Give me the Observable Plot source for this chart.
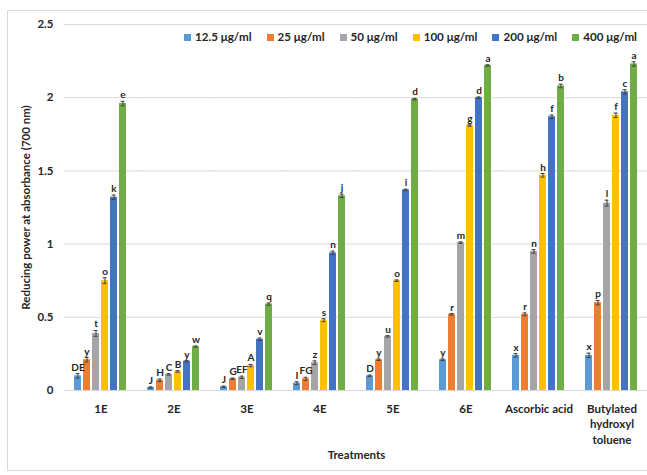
<!DOCTYPE html>
<html><head><meta charset="utf-8">
<script src="https://cdn.jsdelivr.net/npm/d3@7"></script>
<script src="https://cdn.jsdelivr.net/npm/@observablehq/plot@0.6"></script>
<style>
body{margin:0;background:#fff;}
#wrap{position:relative;width:647px;height:475px;overflow:hidden;font-family:Lato,"Open Sans",sans-serif;background:#fff;}
#frame{position:absolute;left:7px;top:10px;width:660px;height:459px;border:1px solid #d9d9d9;pointer-events:none;}
#legend{position:absolute;top:30px;right:10px;display:flex;gap:15px;font-weight:700;font-size:11.6px;color:#262626;line-height:14px;}
#legend .it{display:flex;align-items:center;gap:4px;white-space:nowrap;}
#legend .sw{width:7px;height:7px;display:inline-block;}
#chart svg{display:block;}
</style></head>
<body>
<div id="wrap"><div id="frame"></div><div id="chart"></div><div id="legend"></div></div>
<script>
const treatments = ["1E","2E","3E","4E","5E","6E","Ascorbic acid","Butylated hydroxyl toluene"];
const treatmentLabels = ["1E","2E","3E","4E","5E","6E","Ascorbic acid","Butylated\nhydroxyl\ntoluene"];
const concentrations = ["12.5 μg/ml","25 μg/ml","50 μg/ml","100 μg/ml","200 μg/ml","400 μg/ml"];
const colors = ["#5B9BD5","#ED7D31","#A5A5A5","#FFC000","#4472C4","#70AD47"];
const yTicks = [0,0.5,1,1.5,2,2.5];

// values per treatment, in concentration order
const values = [
  [0.10,0.21,0.39,0.75,1.32,1.96],
  [0.02,0.07,0.11,0.13,0.20,0.30],
  [0.025,0.08,0.09,0.17,0.35,0.59],
  [0.05,0.08,0.19,0.48,0.94,1.33],
  [0.10,0.21,0.37,0.75,1.37,1.99],
  [0.21,0.52,1.01,1.81,2.00,2.22],
  [0.24,0.52,0.95,1.47,1.87,2.08],
  [0.24,0.60,1.28,1.88,2.04,2.23]
];
const errors = [
  [0.015,0.015,0.02,0.02,0.015,0.015],
  [0.005,0.008,0.005,0.005,0.004,0.004],
  [0.005,0.005,0.008,0.008,0.008,0.008],
  [0.01,0.01,0.012,0.01,0.012,0.012],
  [0.005,0.005,0.005,0.005,0.005,0.005],
  [0.005,0.005,0.005,0.005,0.005,0.005],
  [0.012,0.01,0.012,0.012,0.012,0.012],
  [0.015,0.015,0.02,0.015,0.015,0.015]
];
const letters = [
  ["DE","y","t","o","k","e"],
  ["J","H","C","B","y","w"],
  ["J","G","EF","A","v","q"],
  ["I","FG","z","s","n","j"],
  ["D","y","u","o","i","d"],
  ["y","r","m","g","d","a"],
  ["x","r","n","h","f","b"],
  ["x","p","l","f","c","a"]
];

const rows = [];
treatments.forEach((t,i)=>concentrations.forEach((c,j)=>rows.push({t, c, v: values[i][j], e: errors[i][j], l: letters[i][j]})));

const chart = Plot.plot({
  width: 647, height: 475,
  marginTop: 24, marginBottom: 85, marginLeft: 61, marginRight: -5,
  style: {fontFamily: "Lato, 'Open Sans', sans-serif", fontWeight: 700, background: "transparent", color: "#262626"},
  fx: {domain: treatments, paddingInner: 0.215, paddingOuter: 0.108},
  x: {domain: concentrations, paddingInner: 0.2, paddingOuter: 0, axis: null},
  y: {domain: [0, 2.5]},
  color: {domain: concentrations, range: colors},
  marks: [
    Plot.ruleY(yTicks, {stroke: "#d9d9d9", strokeWidth: 1, insetLeft: -8.5, insetRight: -8.5}),
    Plot.barY(rows, {fx: "t", x: "c", y: "v", fill: "c"}),
    Plot.ruleX(rows, {fx: "t", x: "c", y1: d => d.v - d.e, y2: d => d.v + d.e, stroke: "#404040", strokeWidth: 1}),
    Plot.tickY(rows, {fx: "t", x: "c", y: d => d.v + d.e, insetLeft: 1.5, insetRight: 1.5, stroke: "#404040"}),
    Plot.tickY(rows, {fx: "t", x: "c", y: d => d.v - d.e, insetLeft: 1.5, insetRight: 1.5, stroke: "#404040"}),
    Plot.text(rows, {fx: "t", x: "c", y: d => d.v + d.e, text: "l", dy: -3, lineAnchor: "bottom", fontSize: 10, fontWeight: 700, fill: "#262626"}),
    Plot.axisY({ticks: yTicks, tickSize: 0, tickPadding: 19, tickFormat: d => `${d}`, fontSize: 11.5,
      label: "Reducing power at absorbance (700 nm)", labelAnchor: "center", labelOffset: 51, labelArrow: "none"}),
    Plot.axisFx({anchor: "bottom", tickSize: 0, tickPadding: 12, fontSize: 11.5, lineHeight: 1.32,
      tickFormat: d => treatmentLabels[treatments.indexOf(d)],
      label: "Treatments", labelAnchor: "center", labelOffset: 68})
  ]
});
document.getElementById("chart").appendChild(chart);

const cs = chart.scale("color");
const leg = d3.select("#legend");
concentrations.forEach(c => {
  const it = leg.append("div").attr("class","it");
  it.append("span").attr("class","sw").style("background", cs.apply(c));
  it.append("span").text(c);
});
</script>
</body></html>
